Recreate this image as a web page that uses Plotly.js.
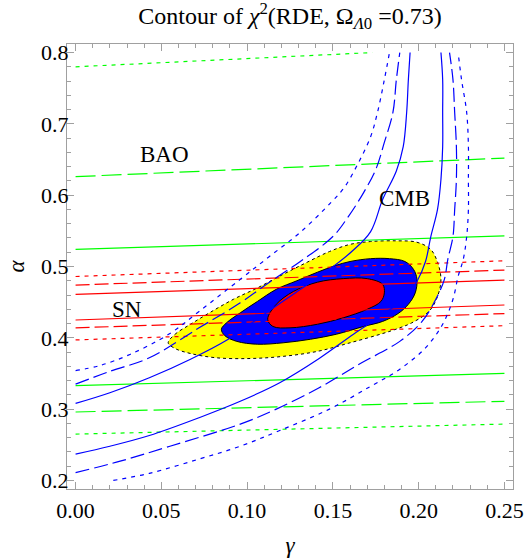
<!DOCTYPE html>
<html>
<head>
<meta charset="utf-8">
<script src="https://cdn.plot.ly/plotly-3.0.1.min.js"></script>
<style>
html, body { margin: 0; padding: 0; background: #fff; }
#chart { width: 526px; height: 559px; }
</style>
</head>
<body>
<div id="chart"></div>
<script>
// Joint confidence regions (gamma, alpha)
const yellowGamma = [0.054, 0.058, 0.067, 0.078, 0.092, 0.106, 0.121, 0.135, 0.148, 0.160, 0.172, 0.187, 0.199, 0.207, 0.211, 0.213, 0.211, 0.206, 0.196, 0.189, 0.179, 0.160, 0.141, 0.121, 0.102, 0.082, 0.067, 0.058, 0.054];
const yellowAlpha = [0.393, 0.405, 0.419, 0.435, 0.454, 0.470, 0.489, 0.506, 0.521, 0.531, 0.535, 0.536, 0.534, 0.524, 0.506, 0.482, 0.458, 0.437, 0.421, 0.414, 0.406, 0.393, 0.381, 0.374, 0.371, 0.372, 0.378, 0.385, 0.393];

const blueGamma = [0.085, 0.088, 0.096, 0.106, 0.117, 0.129, 0.141, 0.151, 0.160, 0.172, 0.183, 0.192, 0.197, 0.199, 0.198, 0.194, 0.188, 0.179, 0.168, 0.152, 0.137, 0.121, 0.106, 0.094, 0.087, 0.085];
const blueAlpha = [0.412, 0.421, 0.435, 0.451, 0.468, 0.480, 0.492, 0.501, 0.507, 0.511, 0.511, 0.507, 0.496, 0.482, 0.463, 0.447, 0.434, 0.423, 0.416, 0.405, 0.398, 0.393, 0.391, 0.395, 0.403, 0.412];

const redGamma = [0.112, 0.117, 0.127, 0.141, 0.156, 0.170, 0.179, 0.180, 0.178, 0.170, 0.156, 0.141, 0.125, 0.115, 0.112];
const redAlpha = [0.426, 0.447, 0.465, 0.478, 0.483, 0.483, 0.475, 0.463, 0.451, 0.440, 0.428, 0.419, 0.414, 0.416, 0.426];

// CMB contours (upper-left branch and lower-right branch of each level)
const cmbL1Gamma = [0.000, 0.020, 0.043, 0.067, 0.089, 0.107, 0.128, 0.148, 0.161, 0.172, 0.179, 0.187, 0.191, 0.193, 0.194, 0.195];
const cmbL1Alpha = [0.308, 0.323, 0.344, 0.370, 0.398, 0.428, 0.463, 0.496, 0.521, 0.549, 0.594, 0.634, 0.668, 0.716, 0.762, 0.800];
const cmbL2Gamma = [0.000, 0.020, 0.043, 0.072, 0.096, 0.113, 0.131, 0.150, 0.159, 0.168, 0.175, 0.180, 0.185, 0.187, 0.189];
const cmbL2Alpha = [0.335, 0.353, 0.372, 0.414, 0.449, 0.478, 0.507, 0.542, 0.570, 0.604, 0.636, 0.674, 0.716, 0.762, 0.800];
const cmbL3Gamma = [0.000, 0.014, 0.032, 0.055, 0.072, 0.096, 0.113, 0.131, 0.149, 0.157, 0.165, 0.172, 0.176, 0.180, 0.183];
const cmbL3Alpha = [0.354, 0.361, 0.377, 0.406, 0.437, 0.482, 0.514, 0.548, 0.590, 0.612, 0.646, 0.682, 0.716, 0.762, 0.800];

const cmbR1Gamma = [0.000, 0.020, 0.043, 0.072, 0.096, 0.119, 0.142, 0.162, 0.180, 0.192, 0.199, 0.204, 0.207, 0.211, 0.213, 0.214, 0.214, 0.214, 0.213];
const cmbR1Alpha = [0.237, 0.248, 0.263, 0.288, 0.311, 0.337, 0.371, 0.405, 0.434, 0.456, 0.479, 0.507, 0.541, 0.580, 0.622, 0.668, 0.716, 0.762, 0.800];
const cmbR2Gamma = [0.000, 0.026, 0.055, 0.096, 0.117, 0.142, 0.166, 0.189, 0.202, 0.210, 0.215, 0.217, 0.220, 0.221, 0.222, 0.222, 0.221, 0.220, 0.218];
const cmbR2Alpha = [0.211, 0.227, 0.248, 0.279, 0.300, 0.330, 0.364, 0.395, 0.423, 0.454, 0.482, 0.510, 0.542, 0.580, 0.622, 0.668, 0.716, 0.762, 0.800];
const cmbR3Gamma = [0.022, 0.043, 0.072, 0.096, 0.119, 0.148, 0.172, 0.189, 0.204, 0.214, 0.220, 0.223, 0.226, 0.228, 0.229, 0.229, 0.229, 0.228, 0.225, 0.223];
const cmbR3Alpha = [0.200, 0.210, 0.230, 0.248, 0.270, 0.300, 0.332, 0.356, 0.386, 0.419, 0.454, 0.486, 0.510, 0.542, 0.580, 0.622, 0.668, 0.716, 0.762, 0.800];

// BAO bands (straight lines: end points)
const baoTopGamma = [0.000, 0.173];
const baoTopDotted = [0.780, 0.800];
const baoGamma = [0.000, 0.250];
const baoUpperDashed = [0.626, 0.652];
const baoUpperSolid = [0.524, 0.543];
const baoLowerSolid = [0.333, 0.350];
const baoLowerDashed = [0.296, 0.311];
const baoLowerDotted = [0.265, 0.279];

// SN bands
const snGamma = [0.000, 0.250];
const snUpperDotted = [0.486, 0.508];
const snUpperDashed = [0.474, 0.495];
const snUpperSolid = [0.461, 0.481];
const snLowerSolid = [0.425, 0.446];
const snLowerDashed = [0.414, 0.434];
const snLowerDotted = [0.397, 0.417];

// Curve labels
const labelText = ['BAO', 'CMB', 'SN'];
const labelGamma = [0.052, 0.192, 0.030];
const labelAlpha = [0.657, 0.595, 0.440];

const DashLong = '14px,5px';
const DashGreen = '20px,6px';
const DotShort = '4px,5px';

function region(g, a, color, dash) {
    return {
        x: g, y: a, type: 'scatter', mode: 'lines',
        fill: 'toself', fillcolor: color,
        line: { color: 'black', width: 1, dash: dash, shape: 'spline', smoothing: 1 },
        hoverinfo: 'none'
    };
}

function curve(g, a, color, dash, shape) {
    return {
        x: g, y: a, type: 'scatter', mode: 'lines',
        line: { color: color, width: 1.2, dash: dash, shape: shape || 'linear', smoothing: 1 },
        hoverinfo: 'none'
    };
}

var traces = [
    region(yellowGamma, yellowAlpha, '#ffff00', '3px,3px'),
    region(blueGamma, blueAlpha, '#0000ff', 'solid'),
    region(redGamma, redAlpha, '#ff0000', 'solid'),

    curve(baoTopGamma, baoTopDotted, '#00ff00', DotShort),
    curve(baoGamma, baoUpperDashed, '#00ff00', DashGreen),
    curve(baoGamma, baoUpperSolid, '#00ff00', 'solid'),
    curve(baoGamma, baoLowerSolid, '#00ff00', 'solid'),
    curve(baoGamma, baoLowerDashed, '#00ff00', DashGreen),
    curve(baoGamma, baoLowerDotted, '#00ff00', DotShort),

    curve(snGamma, snUpperDotted, '#ff0000', DotShort),
    curve(snGamma, snUpperDashed, '#ff0000', DashLong),
    curve(snGamma, snUpperSolid, '#ff0000', 'solid'),
    curve(snGamma, snLowerSolid, '#ff0000', 'solid'),
    curve(snGamma, snLowerDashed, '#ff0000', DashLong),
    curve(snGamma, snLowerDotted, '#ff0000', DotShort),

    curve(cmbL1Gamma, cmbL1Alpha, '#0000ff', 'solid', 'spline'),
    curve(cmbL2Gamma, cmbL2Alpha, '#0000ff', DashLong, 'spline'),
    curve(cmbL3Gamma, cmbL3Alpha, '#0000ff', DotShort, 'spline'),
    curve(cmbR1Gamma, cmbR1Alpha, '#0000ff', 'solid', 'spline'),
    curve(cmbR2Gamma, cmbR2Alpha, '#0000ff', DashLong, 'spline'),
    curve(cmbR3Gamma, cmbR3Alpha, '#0000ff', DotShort, 'spline')
];

const FrameColor = '#a0a0a0';
const SerifFont = 'Liberation Serif, Times New Roman, serif';
const TickFont = { family: SerifFont, size: 22, color: 'black' };

var layout = {
    width: 526,
    height: 559,
    margin: { l: 67, r: 13, t: 44, b: 70 },
    paper_bgcolor: 'white',
    plot_bgcolor: 'white',
    showlegend: false,
    font: { family: SerifFont, size: 22, color: 'black' },
    title: {
        text: 'Contour of <i>χ</i><sup>2</sup>(RDE, Ω<sub><i>Λ</i>0</sub> =0.73)',
        xref: 'paper', x: 0.5, xanchor: 'center',
        yref: 'container', y: 0.972, yanchor: 'middle',
        font: { family: SerifFont, size: 24, color: 'black' }
    },
    xaxis: {
        range: [-0.005, 0.255],
        showgrid: false, zeroline: false,
        showline: true, linecolor: FrameColor, linewidth: 1, mirror: 'ticks',
        ticks: 'inside', ticklen: 7, tickcolor: FrameColor, tickwidth: 1,
        tick0: 0, dtick: 0.05, tickformat: '.2f',
        tickfont: TickFont,
        ticklabelposition: 'outside',
        ticklabelstandoff: 2,
        minor: { dtick: 0.01, ticks: 'inside', ticklen: 4, tickcolor: FrameColor },
        title: { text: '<i>γ</i>', standoff: 14, font: { family: SerifFont, size: 23, color: 'black' } }
    },
    yaxis: {
        range: [0.188, 0.812],
        showgrid: false, zeroline: false,
        showline: true, linecolor: FrameColor, linewidth: 1, mirror: 'ticks',
        ticks: 'inside', ticklen: 7, tickcolor: FrameColor, tickwidth: 1,
        tick0: 0.2, dtick: 0.1, tickformat: '.1f',
        tickfont: TickFont,
        ticklabelposition: 'outside',
        ticklabelstandoff: -7,
        minor: { dtick: 0.02, ticks: 'inside', ticklen: 4, tickcolor: FrameColor },
        title: { text: '<i>α</i>', standoff: 10, font: { family: SerifFont, size: 23, color: 'black' } }
    },
    annotations: labelText.map(function (t, i) {
        return {
            text: t, x: labelGamma[i], y: labelAlpha[i],
            xref: 'x', yref: 'y', showarrow: false,
            font: { family: SerifFont, size: 23, color: 'black' }
        };
    })
};

Plotly.newPlot('chart', traces, layout, { displayModeBar: false, staticPlot: true });
</script>
</body>
</html>
